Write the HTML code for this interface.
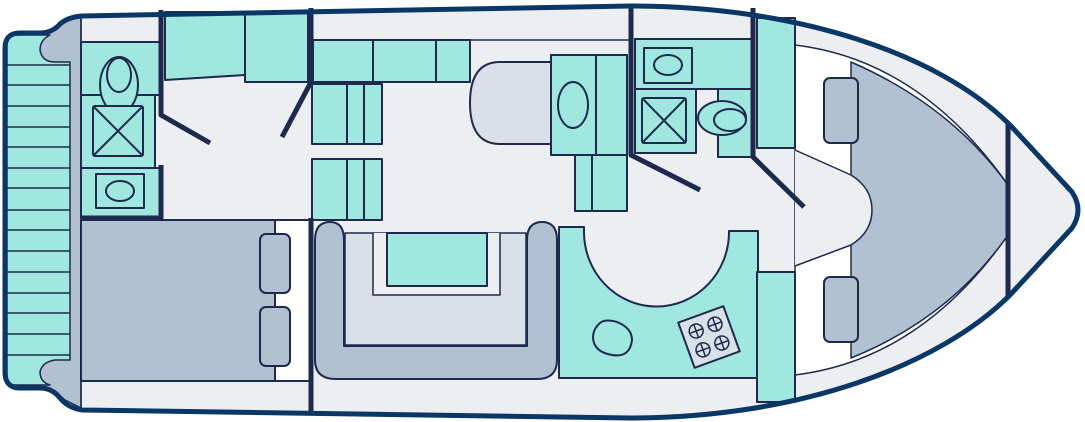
<!DOCTYPE html>
<html><head><meta charset="utf-8"><style>html,body{margin:0;padding:0;background:#fff}svg{display:block}</style></head>
<body>
<svg width="1085" height="422" viewBox="0 0 1085 422" xmlns="http://www.w3.org/2000/svg">
<g stroke="#1d2a4e" stroke-width="2" stroke-linejoin="round">
<!-- hull -->
<path d="M82,16 L630,6 C800,6 940,55 1010,125 L1072,192 Q1084,210 1072,228 L1010,295 C940,365 800,418 630,418 L82,410 Q68,408 60,398 Q52,388 40,388 L20,388 Q5,388 5,372 L5,48 Q5,33 20,33 L40,33 Q52,33 60,24 Q68,17 82,16 Z" fill="#eceef1" stroke="none"/>
<!-- stern grey -->
<path d="M40,34 Q55,30 65,20 L81,16 L81,408 L65,400 Q55,390 40,387 Z" fill="#b1c1d1" stroke="#1d2a4e" stroke-width="1.5"/>
<path d="M7,40 Q7,35 15,35 L50,35 Q40,40 40,50 Q42,62 55,62 L70,62 L70,360 L55,360 Q42,362 40,372 Q40,382 50,385 L15,385 Q7,385 7,378 Z" fill="#9fe7df" stroke="#1d2a4e" stroke-width="1.5"/>
<g stroke-width="1.5">
<line x1="7" y1="65" x2="70" y2="65"/><line x1="7" y1="85" x2="70" y2="85"/><line x1="7" y1="106" x2="70" y2="106"/><line x1="7" y1="127" x2="70" y2="127"/><line x1="7" y1="147" x2="70" y2="147"/><line x1="7" y1="168" x2="70" y2="168"/><line x1="7" y1="188" x2="70" y2="188"/><line x1="7" y1="210" x2="70" y2="210"/><line x1="7" y1="230" x2="70" y2="230"/><line x1="7" y1="251" x2="70" y2="251"/><line x1="7" y1="272" x2="70" y2="272"/><line x1="7" y1="293" x2="70" y2="293"/><line x1="7" y1="313" x2="70" y2="313"/><line x1="7" y1="334" x2="70" y2="334"/><line x1="7" y1="355" x2="70" y2="355"/>
</g>
<!-- bow berth -->
<path d="M795,45 Q920,60 1008,185 L1008,235 Q920,360 795,375 Z" fill="#fff" stroke="#1d2a4e" stroke-width="1.5"/>
<path d="M851,62 Q950,105 1008,185 L1008,235 Q950,318 851,358 Z" fill="#b1c1d1" stroke="#1d2a4e" stroke-width="1.5"/>
<path d="M795,150 L851,175 Q872,188 872,210 Q872,232 851,245 L795,266" fill="#eceef1" stroke="#1d2a4e" stroke-width="1.5"/>
<rect x="824" y="78" width="34" height="65" rx="6" fill="#b1c1d1"/>
<rect x="824" y="277" width="34" height="65" rx="6" fill="#b1c1d1"/>
<line x1="1008" y1="122" x2="1008" y2="296" stroke-width="5"/>
<!-- left bathroom -->
<rect x="81" y="42" width="79" height="53" fill="#9fe7df"/>
<rect x="81" y="95" width="74" height="73" fill="#9fe7df"/>
<rect x="81" y="168" width="79" height="50" fill="#9fe7df"/>
<ellipse cx="119" cy="85" rx="19" ry="28" fill="#9fe7df"/>
<ellipse cx="119" cy="75" rx="12" ry="17" fill="#9fe7df"/>
<rect x="93" y="106" width="50" height="50" rx="2" fill="#9fe7df"/>
<line x1="93" y1="106" x2="143" y2="156"/><line x1="143" y1="106" x2="93" y2="156"/>
<rect x="96" y="174" width="48" height="34" fill="#9fe7df"/>
<ellipse cx="120" cy="191" rx="14" ry="10" fill="#9fe7df"/>
<!-- top mint -->
<path d="M165,12 L245,12 L245,75 L165,80 Z" fill="#9fe7df"/>
<rect x="245" y="12" width="63" height="70" fill="#9fe7df"/>
<line x1="311" y1="40" x2="631" y2="40" stroke-width="1.5"/>
<rect x="313" y="40" width="60" height="42" fill="#9fe7df"/>
<rect x="373" y="40" width="63" height="42" fill="#9fe7df"/>
<rect x="436" y="40" width="34" height="42" fill="#9fe7df"/>
<rect x="312" y="84" width="70" height="60" fill="#9fe7df"/>
<line x1="347" y1="84" x2="347" y2="144"/><line x1="364" y1="84" x2="364" y2="144"/>
<rect x="312" y="159" width="70" height="61" fill="#9fe7df"/>
<line x1="347" y1="159" x2="347" y2="220"/><line x1="364" y1="159" x2="364" y2="220"/>
<!-- bedroom -->
<rect x="81" y="220" width="194" height="161" fill="#b1c1d1"/>
<rect x="275" y="220" width="35" height="161" fill="#fff"/>
<rect x="260" y="234" width="30" height="59" rx="6" fill="#b1c1d1"/>
<rect x="260" y="307" width="30" height="59" rx="6" fill="#b1c1d1"/>
<!-- salon sofa -->
<path d="M315,240 Q315,222 330,222 Q344,222 344,240 L344,346 L527,346 L527,240 Q527,222 542,222 Q557,222 557,240 L557,360 Q557,379 537,379 L336,379 Q315,379 315,360 Z" fill="#b1c1d1"/>
<path d="M345,233 L526,233 L526,345 L345,345 Z" fill="#d9e0e7" stroke-width="1.5"/>
<path d="M373,233 L373,295 L500,295 L500,233" fill="#eceef1" stroke-width="1.5"/>
<rect x="387" y="233" width="100" height="53" fill="#9fe7df"/>
<!-- dinette -->
<path d="M551,62 L500,62 Q470,62 470,103 Q470,144 500,144 L551,144 Z" fill="#d9e0e7"/>
<rect x="551" y="55" width="45" height="100" fill="#9fe7df"/>
<rect x="596" y="55" width="31" height="100" fill="#9fe7df"/>
<ellipse cx="573" cy="105" rx="15" ry="23" fill="#9fe7df"/>
<rect x="575" y="155" width="17" height="56" fill="#9fe7df"/>
<rect x="592" y="155" width="35" height="56" fill="#9fe7df"/>
<!-- fwd head -->
<rect x="635" y="39" width="117" height="50" fill="#9fe7df"/>
<rect x="644" y="48" width="48" height="35" fill="#9fe7df"/>
<ellipse cx="668" cy="65" rx="14" ry="10" fill="#9fe7df"/>
<rect x="635" y="89" width="61" height="64" fill="#9fe7df"/>
<rect x="642" y="98" width="44" height="45" rx="2" fill="#9fe7df"/>
<line x1="642" y1="98" x2="686" y2="143"/><line x1="686" y1="98" x2="642" y2="143"/>
<rect x="718" y="89" width="34" height="68" fill="#9fe7df"/>
<ellipse cx="722" cy="118" rx="24" ry="17" fill="#9fe7df"/>
<ellipse cx="730" cy="120" rx="16" ry="11" fill="#9fe7df"/>
<rect x="757" y="18" width="38" height="130" fill="#9fe7df"/>
<!-- galley -->
<path d="M559,227 L584,227 L584,232 A72,74 0 0 0 729,232 L729,231 L758,231 L758,378 L559,378 Z" fill="#9fe7df"/>
<rect x="757" y="272" width="38" height="130" fill="#9fe7df"/>
<path d="M598,325 Q603,318 617,322 Q632,328 632,340 Q630,358 612,355 Q594,352 593,338 Q593,330 598,325 Z" fill="#9fe7df"/>
<g transform="translate(709,337) rotate(-20)">
<rect x="-24" y="-24" width="48" height="48" fill="#d9e0e7"/>
<g stroke-width="1.5" fill="#d9e0e7">
<circle cx="-10" cy="-10" r="7"/><circle cx="10" cy="-10" r="7"/><circle cx="-10" cy="10" r="7"/><circle cx="10" cy="10" r="7"/>
<path d="M-17,-10h14M-10,-17v14M3,-10h14M10,-17v14M-17,10h14M-10,3v14M3,10h14M10,3v14"/>
</g></g>
<!-- thick walls -->
<g stroke-width="5" fill="none" stroke-linecap="butt">
<path d="M161,10 L161,115 L210,143"/>
<path d="M161,165 L161,218 L81,218"/>
<path d="M311,8 L311,82 L282,137"/>
<line x1="311" y1="218" x2="311" y2="411"/>
<path d="M631,6 L631,155 L700,190"/>
<path d="M753,8 L753,157 L804,207"/>
</g>
<line x1="81" y1="16" x2="81" y2="410" stroke-width="1.5"/>
<!-- hull outline -->
<path d="M82,16 L630,6 C800,6 940,55 1010,125 L1072,192 Q1084,210 1072,228 L1010,295 C940,365 800,418 630,418 L82,410 Q68,408 60,398 Q52,388 40,388 L20,388 Q5,388 5,372 L5,48 Q5,33 20,33 L40,33 Q52,33 60,24 Q68,17 82,16 Z" fill="none" stroke="#0b3766" stroke-width="5"/>
</g>
</svg>
</body></html>
